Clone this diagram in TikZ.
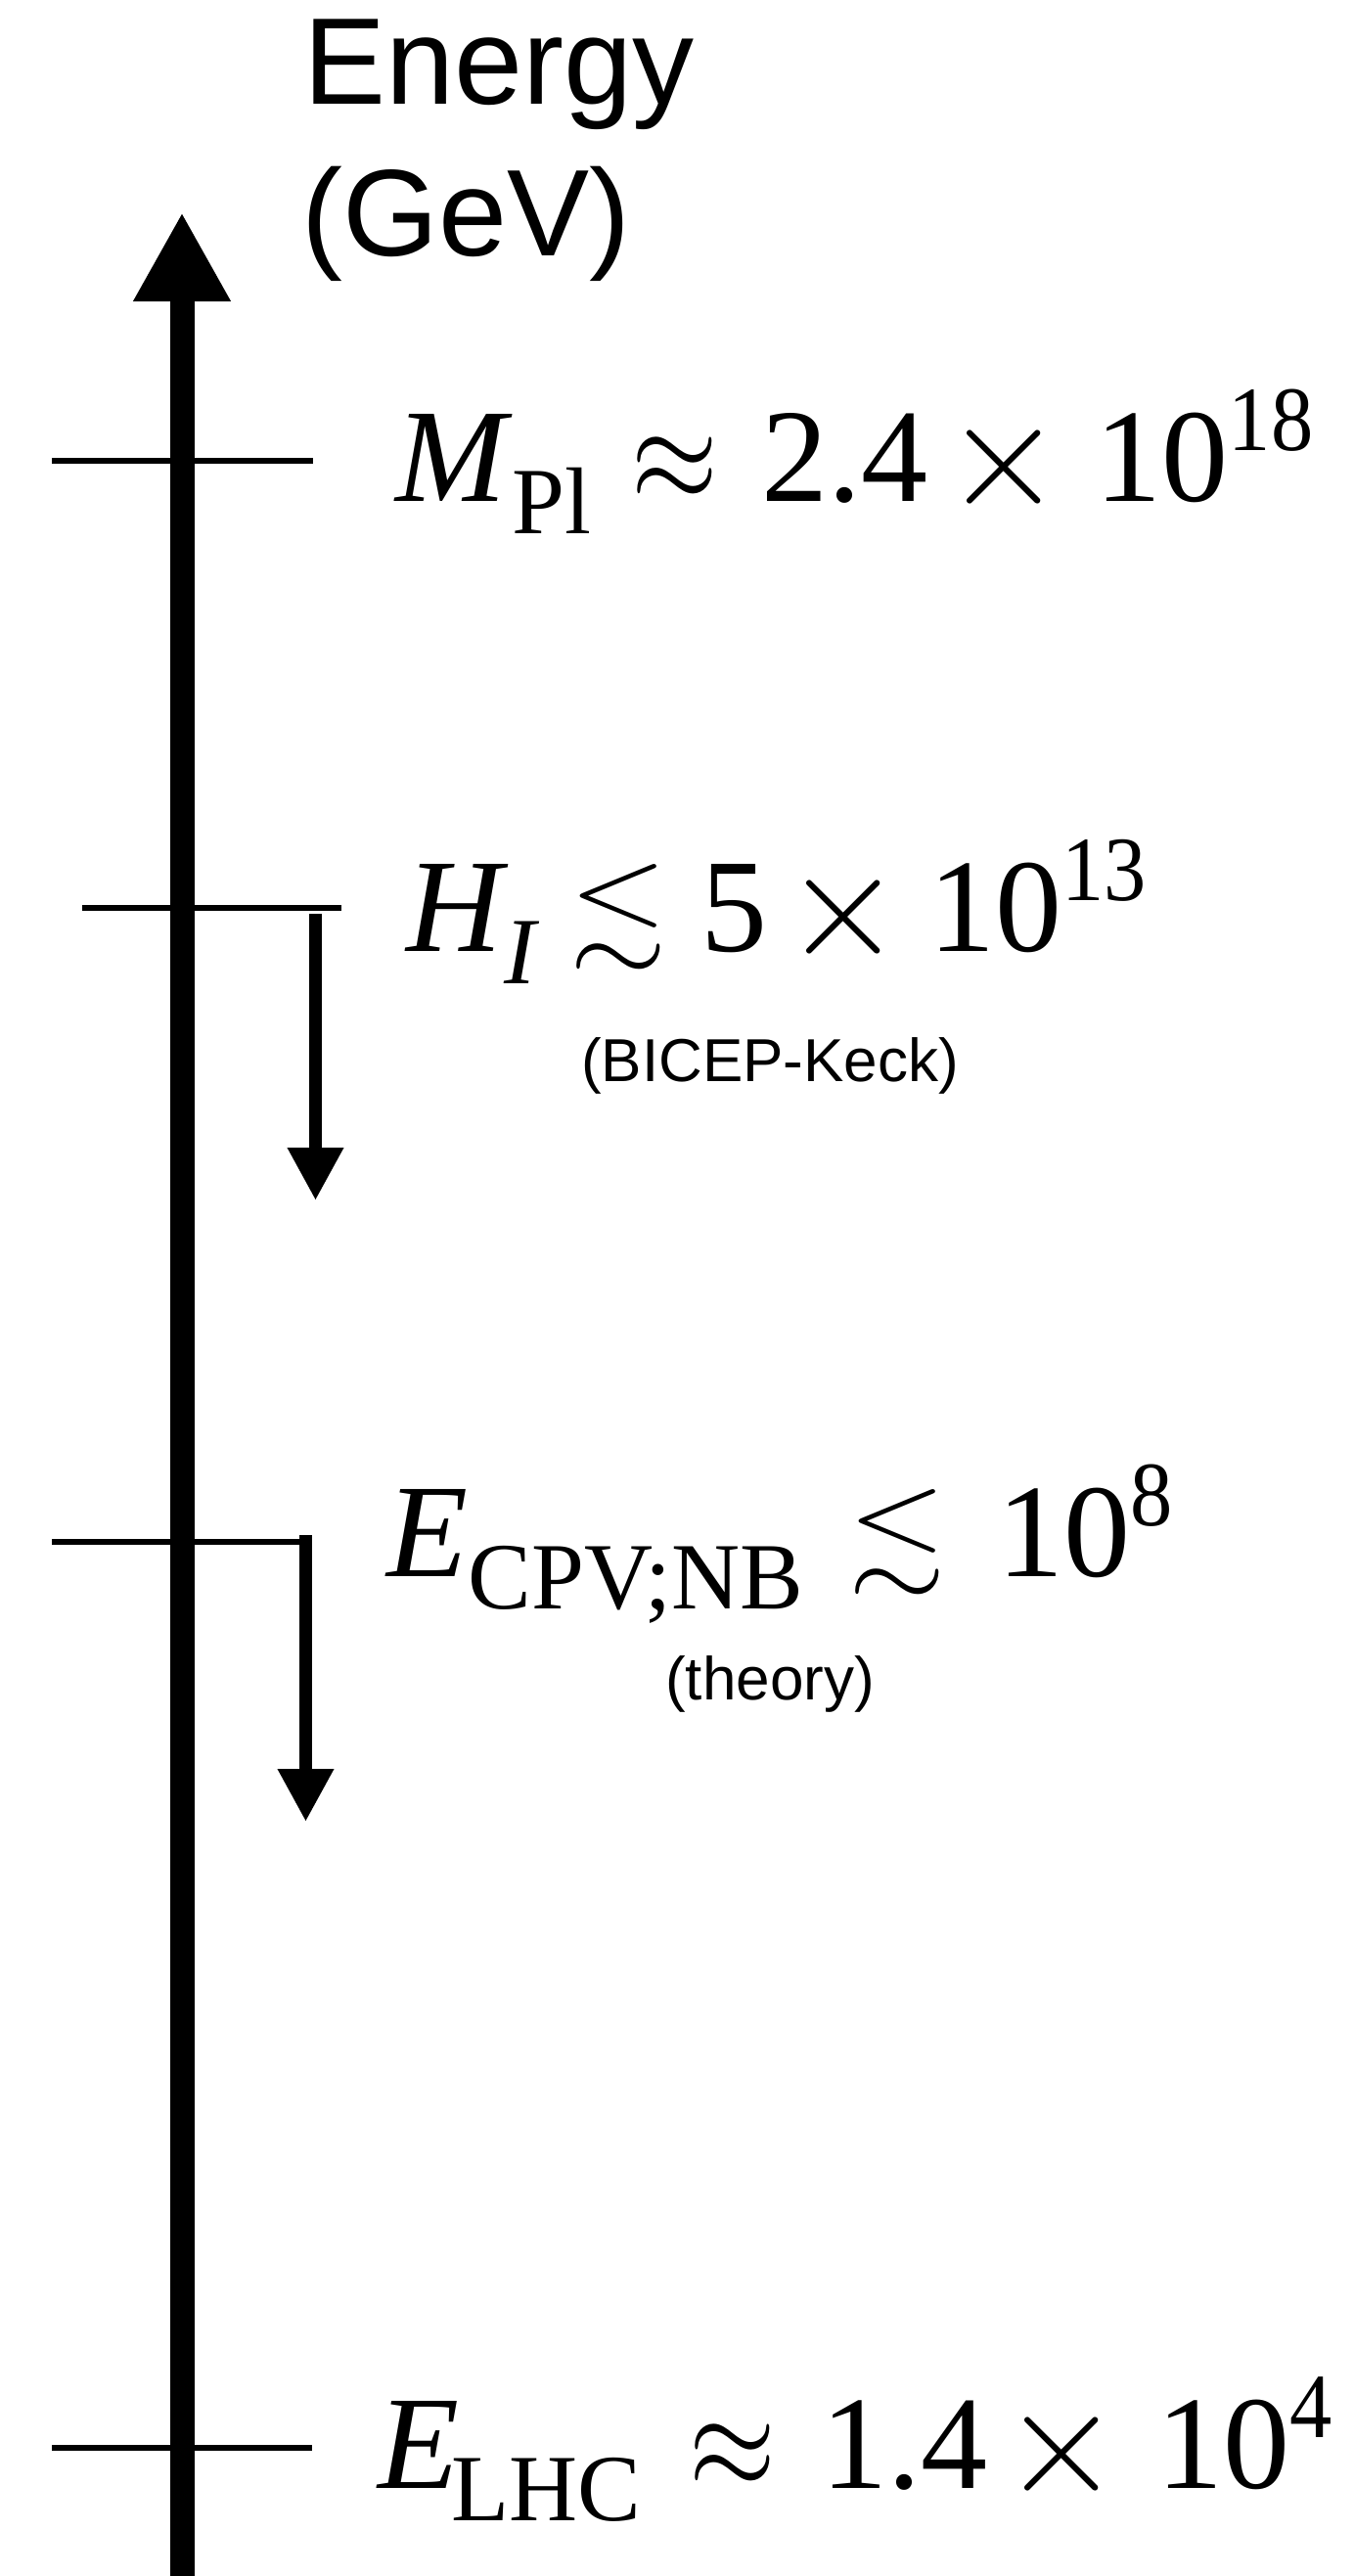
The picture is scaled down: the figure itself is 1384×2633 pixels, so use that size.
\documentclass[tikz,border=0pt]{standalone}
\usepackage{fontspec}
\usepackage{amssymb}
\usepackage{graphicx}
\usetikzlibrary{arrows.meta}
\newfontfamily\tms{Liberation Serif}
\newfontfamily\hlv{Liberation Sans}
\newcommand{\lowtxt}[1]{\raisebox{-16.5pt}{\fontsize{48.5}{48.5}\selectfont #1}}
\newcommand{\hightxt}[1]{\raisebox{26pt}{\scalebox{0.92}[1]{\fontsize{47}{47}\selectfont #1}}}
\newcommand{\apx}{\scalebox{5.7}[6.8]{\normalsize$\approx$}}
\newcommand{\crs}{\raisebox{-2pt}{\scalebox{7.8}{\normalsize$\times$}}}
\newcommand{\lsm}{\raisebox{3.5pt}{\scalebox{6.4}[5.6]{\normalsize$\lesssim$}}}
\tikzset{
  tick/.style={line width=3pt},
  axis/.style={line width=12.5pt,-{Triangle[length=45.5pt,width=46.5pt]}},
  bound/.style={line width=6.5pt,-{Triangle[length=27pt,width=27pt]}},
  val/.style={anchor=base west,inner sep=0pt,font=\tms\fontsize{68}{68}\selectfont},
  note/.style={anchor=base,inner sep=0pt,font=\hlv\fontsize{31}{31}\selectfont},
  ttl/.style={anchor=base west,inner sep=0pt,font=\hlv\fontsize{63}{63}\selectfont}
}
\begin{document}
\begin{tikzpicture}[x=0.5pt,y=-0.5pt]
  \useasboundingbox (0,0) rectangle (1384,2633);
  \node[ttl] (energy) at (310,107) {Energy};
  \node[ttl] (gev) at (308,262) {(GeV)};
  \draw[axis] (186,2650) -- (186,217);
  % scales
  \draw[tick] (53,471) -- (320,471);
  \draw[tick] (84,928) -- (349,928);
  \draw[tick] (53,1576) -- (312,1576);
  \draw[tick] (53,2502) -- (319,2502);
  \node[val] (mpl) at (404,512) {\textit{M}\lowtxt{Pl}\hspace{20.5pt}\apx\hspace{22pt}2.4\hspace{8.5pt}\crs\hspace{16.5pt}10\hightxt{18}};
  \node[val] (hinf) at (415,972) {\textit{H}\hspace{-2pt}\lowtxt{\textit{I}}\hspace{15.5pt}\lsm\hspace{17pt}5\hspace{8.5pt}\crs\hspace{13.5pt}10\hightxt{13}};
  \node[note] (bk) at (787,1105) {(BICEP-Keck)};
  \node[val] (ecpv) at (395,1611) {\textit{E}\lowtxt{CPV;NB}\hspace{23pt}\lsm\hspace{26pt}10\hightxt{8}};
  \node[note] (thy) at (787,1737) {(theory)};
  \node[val] (elhc) at (386,2543) {\textit{E}\hspace{-4pt}\lowtxt{LHC}\hspace{24.5pt}\apx\hspace{23pt}1.4\hspace{7.5pt}\crs\hspace{18.5pt}10\hightxt{4}};
  % upper bounds
  \draw[bound] (322.5,934) -- (322.5,1227);
  \draw[bound] (312.5,1569) -- (312.5,1862);
\end{tikzpicture}
\end{document}
